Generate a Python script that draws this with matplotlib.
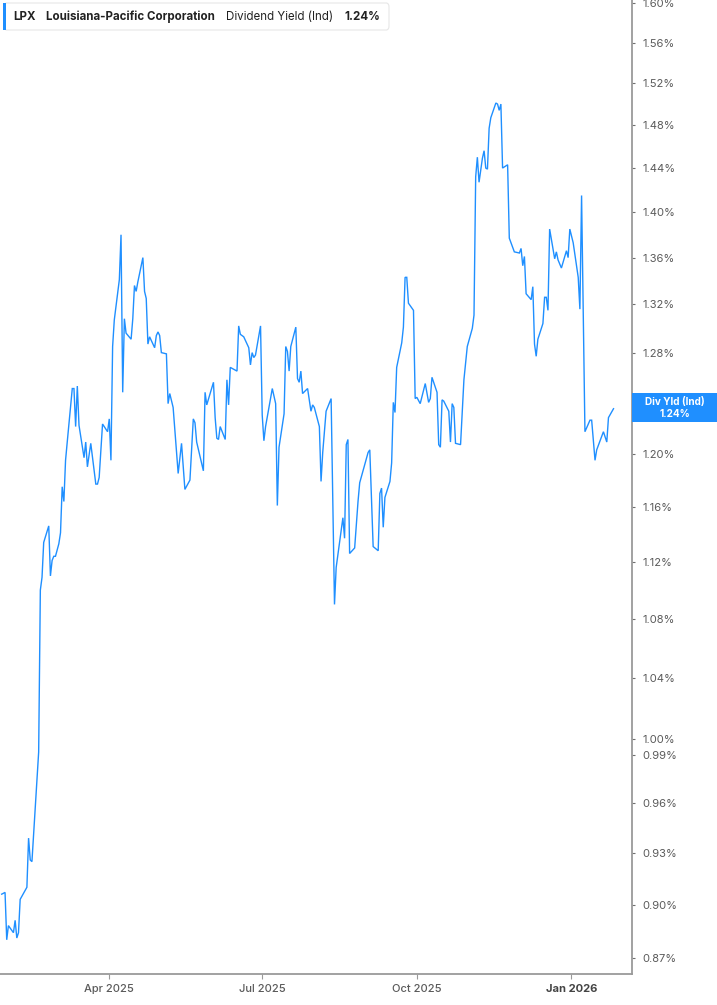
import matplotlib
matplotlib.use("Agg")
import matplotlib.pyplot as plt
import matplotlib.dates as mdates
from matplotlib.patches import FancyBboxPatch, Rectangle
from matplotlib.ticker import FixedLocator, FixedFormatter, NullLocator
import pandas as pd

plt.rcParams['font.family'] = ['Inter', 'DejaVu Sans']

dates = [
    "2025-01-27", "2025-01-29", "2025-01-30", "2025-01-31", "2025-02-03", "2025-02-04",
    "2025-02-05", "2025-02-06", "2025-02-07", "2025-02-11", "2025-02-12", "2025-02-13",
    "2025-02-14", "2025-02-16", "2025-02-18", "2025-02-19", "2025-02-20", "2025-02-21",
    "2025-02-24", "2025-02-25", "2025-02-26", "2025-02-27", "2025-02-28", "2025-03-02",
    "2025-03-03", "2025-03-04", "2025-03-05", "2025-03-06", "2025-03-07", "2025-03-10",
    "2025-03-11", "2025-03-12", "2025-03-13", "2025-03-14", "2025-03-17", "2025-03-18",
    "2025-03-19", "2025-03-21", "2025-03-24", "2025-03-25", "2025-03-26", "2025-03-28",
    "2025-03-31", "2025-04-01", "2025-04-02", "2025-04-03", "2025-04-04", "2025-04-07",
    "2025-04-08", "2025-04-09", "2025-04-10", "2025-04-11", "2025-04-14", "2025-04-15",
    "2025-04-16", "2025-04-17", "2025-04-18", "2025-04-21", "2025-04-22", "2025-04-23",
    "2025-04-24", "2025-04-25", "2025-04-28", "2025-04-29", "2025-04-30", "2025-05-01",
    "2025-05-02", "2025-05-05", "2025-05-06", "2025-05-07", "2025-05-09", "2025-05-12",
    "2025-05-14", "2025-05-16", "2025-05-19", "2025-05-21", "2025-05-22", "2025-05-23",
    "2025-05-27", "2025-05-28", "2025-05-29", "2025-06-02", "2025-06-03", "2025-06-04",
    "2025-06-05", "2025-06-06", "2025-06-09", "2025-06-10", "2025-06-11", "2025-06-12",
    "2025-06-16", "2025-06-17", "2025-06-18", "2025-06-20", "2025-06-23", "2025-06-24",
    "2025-06-25", "2025-06-26", "2025-06-27", "2025-06-30", "2025-07-01", "2025-07-02",
    "2025-07-03", "2025-07-07", "2025-07-09", "2025-07-10", "2025-07-11", "2025-07-14",
    "2025-07-15", "2025-07-16", "2025-07-17", "2025-07-18", "2025-07-21", "2025-07-22",
    "2025-07-23", "2025-07-24", "2025-07-25", "2025-07-28", "2025-07-30", "2025-07-31",
    "2025-08-01", "2025-08-04", "2025-08-05", "2025-08-06", "2025-08-08", "2025-08-11",
    "2025-08-13", "2025-08-14", "2025-08-18", "2025-08-19", "2025-08-20", "2025-08-21",
    "2025-08-22", "2025-08-25", "2025-08-27", "2025-08-28", "2025-09-02", "2025-09-03",
    "2025-09-05", "2025-09-08", "2025-09-09", "2025-09-10", "2025-09-11", "2025-09-12",
    "2025-09-15", "2025-09-16", "2025-09-17", "2025-09-18", "2025-09-19", "2025-09-22",
    "2025-09-23", "2025-09-24", "2025-09-25", "2025-09-26", "2025-09-29", "2025-09-30",
    "2025-10-01", "2025-10-03", "2025-10-06", "2025-10-08", "2025-10-09", "2025-10-10",
    "2025-10-13", "2025-10-14", "2025-10-15", "2025-10-16", "2025-10-17", "2025-10-20",
    "2025-10-21", "2025-10-22", "2025-10-23", "2025-10-24", "2025-10-27", "2025-10-29",
    "2025-10-31", "2025-11-03", "2025-11-04", "2025-11-05", "2025-11-06", "2025-11-07",
    "2025-11-09", "2025-11-10", "2025-11-11", "2025-11-12", "2025-11-13", "2025-11-14",
    "2025-11-17", "2025-11-18", "2025-11-19", "2025-11-20", "2025-11-21", "2025-11-24",
    "2025-11-25", "2025-11-26", "2025-11-28", "2025-12-01", "2025-12-02", "2025-12-03",
    "2025-12-04", "2025-12-05", "2025-12-08", "2025-12-09", "2025-12-10", "2025-12-11",
    "2025-12-12", "2025-12-15", "2025-12-16", "2025-12-17", "2025-12-18", "2025-12-19",
    "2025-12-22", "2025-12-23", "2025-12-24", "2025-12-26", "2025-12-29", "2025-12-30",
    "2025-12-31", "2026-01-02", "2026-01-05", "2026-01-06", "2026-01-07", "2026-01-09",
    "2026-01-12", "2026-01-13", "2026-01-15", "2026-01-16", "2026-01-20", "2026-01-22",
    "2026-01-23", "2026-01-26",
]

div_yield = [
    0.906, 0.907, 0.880, 0.888, 0.884, 0.891,
    0.881, 0.884, 0.903, 0.910, 0.939, 0.926,
    0.925, 0.958, 0.992, 1.100, 1.109, 1.134,
    1.146, 1.110, 1.121, 1.124, 1.124, 1.133,
    1.141, 1.175, 1.164, 1.195, 1.209, 1.251,
    1.251, 1.221, 1.253, 1.222, 1.197, 1.209,
    1.190, 1.208, 1.177, 1.177, 1.182, 1.223,
    1.217, 1.227, 1.195, 1.285, 1.307, 1.341,
    1.380, 1.248, 1.308, 1.296, 1.291, 1.308,
    1.336, 1.331, 1.339, 1.360, 1.331, 1.325,
    1.287, 1.293, 1.284, 1.294, 1.297, 1.294,
    1.280, 1.279, 1.239, 1.247, 1.236, 1.185,
    1.208, 1.173, 1.180, 1.227, 1.224, 1.209,
    1.187, 1.248, 1.238, 1.256, 1.228, 1.212,
    1.211, 1.221, 1.211, 1.258, 1.238, 1.268,
    1.265, 1.302, 1.295, 1.293, 1.284, 1.270,
    1.280, 1.276, 1.278, 1.302, 1.230, 1.210,
    1.221, 1.251, 1.239, 1.161, 1.205, 1.231,
    1.285, 1.281, 1.265, 1.285, 1.301, 1.259,
    1.256, 1.265, 1.247, 1.251, 1.233, 1.238,
    1.236, 1.221, 1.179, 1.201, 1.233, 1.243,
    1.090, 1.116, 1.152, 1.137, 1.207, 1.211,
    1.126, 1.130, 1.164, 1.178, 1.201, 1.203,
    1.131, 1.128, 1.170, 1.174, 1.145, 1.167,
    1.179, 1.193, 1.240, 1.232, 1.268, 1.288,
    1.301, 1.343, 1.343, 1.321, 1.315, 1.243,
    1.244, 1.239, 1.255, 1.240, 1.243, 1.260,
    1.248, 1.207, 1.205, 1.242, 1.241, 1.233,
    1.209, 1.239, 1.236, 1.208, 1.207, 1.258,
    1.285, 1.300, 1.311, 1.432, 1.450, 1.427,
    1.449, 1.456, 1.440, 1.439, 1.477, 1.487,
    1.501, 1.500, 1.494, 1.500, 1.440, 1.443,
    1.377, 1.373, 1.365, 1.364, 1.368, 1.353,
    1.361, 1.329, 1.324, 1.335, 1.287, 1.277,
    1.291, 1.304, 1.326, 1.326, 1.315, 1.385,
    1.359, 1.365, 1.358, 1.351, 1.366, 1.360,
    1.385, 1.373, 1.343, 1.316, 1.415, 1.217,
    1.226, 1.226, 1.195, 1.203, 1.217, 1.209,
    1.228, 1.235,
]

# 1.24% sits under the value badge in the reference, so its label is hidden
ytick_values = [0.87, 0.90, 0.93, 0.96, 0.99, 1.00, 1.04, 1.08, 1.12, 1.16, 1.20,
                1.24, 1.28, 1.32, 1.36, 1.40, 1.44, 1.48, 1.52, 1.56, 1.60]
hidden_ytick = 1.24
xtick_dates = ["2025-04-01", "2025-07-01", "2025-10-01", "2026-01-01"]
xtick_labels = ["Apr 2025", "Jul 2025", "Oct 2025", "Jan 2026"]

ticker = "LPX"
company = "Louisiana-Pacific Corporation"
metric = "Dividend Yield (Ind)"
last_label = "1.24%"
badge_title = "Div Yld (Ind)"

LINE = "#1f8fff"
AXIS = "#9a9a9a"
TXT = "#5a5a5a"

W, H = 717, 1005
fig = plt.figure(figsize=(W / 100, H / 100), dpi=100)
fig.patch.set_facecolor("white")

ax_left, ax_right, ax_bottom = 0, 632, 974
ax = fig.add_axes([ax_left / W, 1 - ax_bottom / H, (ax_right - ax_left) / W, ax_bottom / H])
ax.set_facecolor("white")

x = pd.to_datetime(dates)
ax.plot(x, div_yield, color=LINE, lw=1.0, solid_joinstyle="miter")

ax.set_yscale("log")
ax.set_ylim(0.861, 1.603)
ax.set_xlim(mdates.datestr2num("2025-01-26"), mdates.datestr2num("2026-02-06"))

ax.yaxis.tick_right()
ax.yaxis.set_major_locator(FixedLocator(ytick_values))
ax.yaxis.set_major_formatter(FixedFormatter(
    ["" if abs(v - hidden_ytick) < 1e-9 else f"{v:.2f}%" for v in ytick_values]))
ax.yaxis.set_minor_locator(NullLocator())
ax.tick_params(axis="y", which="major", direction="out", length=2.0, width=0.8,
               color="#707070", labelsize=8, labelcolor=TXT, pad=5.5)

ax.xaxis.set_major_locator(FixedLocator(mdates.datestr2num(xtick_dates)))
ax.xaxis.set_major_formatter(FixedFormatter(xtick_labels))
ax.xaxis.set_minor_locator(NullLocator())
ax.tick_params(axis="x", which="major", direction="out", length=3.5, width=0.8,
               color=AXIS, labelsize=8, labelcolor=TXT, pad=3.5)
for lbl in ax.get_xticklabels():
    if lbl.get_text().startswith("Jan"):
        lbl.set_fontweight("bold")
        lbl.set_color("#444444")
    else:
        lbl.set_fontweight("medium")

for s in ("left", "top"):
    ax.spines[s].set_visible(False)
for s in ("right", "bottom"):
    ax.spines[s].set_color(AXIS)
    ax.spines[s].set_linewidth(1.3)

# header box
def fx(px):
    return px / W

def fy(py):
    return 1 - py / H

hdr = FancyBboxPatch((fx(4), fy(30)), fx(389) - fx(4), fy(3) - fy(30),
                     boxstyle="round,pad=0,rounding_size=0.004",
                     transform=fig.transFigure, facecolor="white",
                     edgecolor="#e6e6e6", linewidth=0.8, zorder=5)
fig.patches.append(hdr)
fig.patches.append(Rectangle((fx(3), fy(30)), fx(6) - fx(3), fy(3) - fy(30),
                             transform=fig.transFigure, facecolor=LINE,
                             edgecolor="none", zorder=6))
ty = fy(17)
HFS = 8.3
fig.text(fx(13), ty, ticker, fontsize=HFS, fontweight="bold", color="#222222",
         va="center", ha="left", zorder=7)
fig.text(fx(46), ty, company, fontsize=HFS, fontweight="bold", color="#222222",
         va="center", ha="left", zorder=7)
fig.text(fx(226), ty, metric, fontsize=HFS, color="#222222",
         va="center", ha="left", zorder=7)
fig.text(fx(344), ty, last_label, fontsize=HFS, fontweight="bold", color="#222222",
         va="center", ha="left", zorder=7)

# right-side value badge
fig.patches.append(Rectangle((fx(632), fy(422)), fx(717) - fx(632), fy(393) - fy(422),
                             transform=fig.transFigure, facecolor=LINE,
                             edgecolor="none", zorder=6))
fig.text(fx(675), fy(408), f"{badge_title}\n{last_label}", fontsize=7.2,
         fontweight="bold", color="white", va="center", ha="center",
         multialignment="center", linespacing=1.15, zorder=7)

fig.savefig("out.png", dpi=100, facecolor="white")
